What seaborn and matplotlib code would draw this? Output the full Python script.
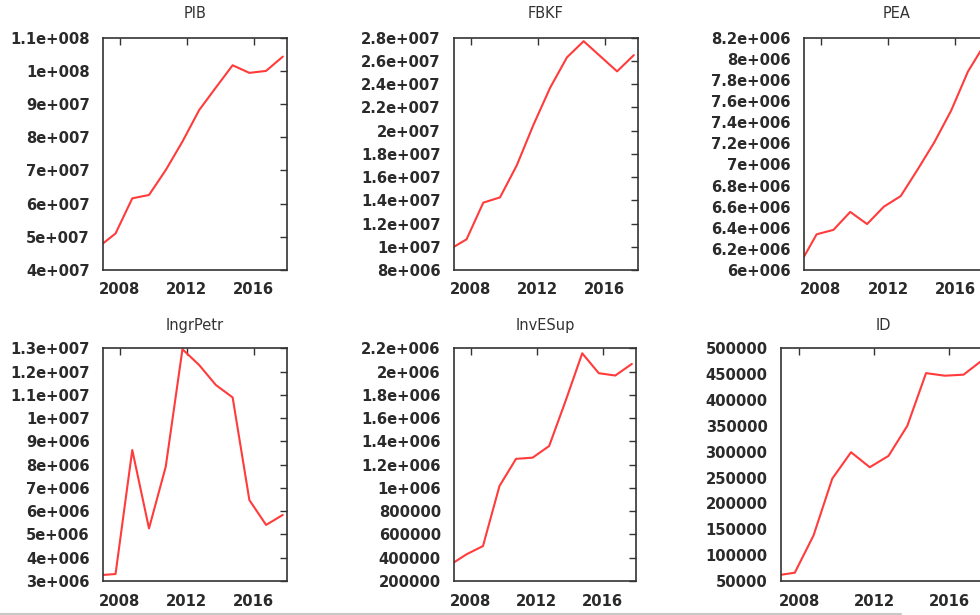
import matplotlib
matplotlib.use("Agg")
import matplotlib.pyplot as plt
import seaborn as sns
import pandas as pd
from matplotlib.ticker import FuncFormatter, MultipleLocator
from matplotlib.lines import Line2D

# ---- data ----
years = [2007.0, 2007.75, 2008.75, 2009.75, 2010.75, 2011.75,
         2012.75, 2013.75, 2014.75, 2015.75, 2016.75, 2017.75]

pib = [4.80e7, 5.10e7, 6.16e7, 6.26e7, 7.01e7, 7.87e7,
       8.82e7, 9.50e7, 1.017e8, 9.94e7, 1.00e8, 1.043e8]
fbkf = [1.00e7, 1.064e7, 1.38e7, 1.425e7, 1.70e7, 2.05e7,
        2.37e7, 2.63e7, 2.77e7, 2.64e7, 2.51e7, 2.65e7]
pea = [6.126e6, 6.338e6, 6.38e6, 6.55e6, 6.435e6, 6.60e6,
       6.70e6, 6.95e6, 7.21e6, 7.51e6, 7.88e6, 8.14e6]
ingrpetr = [3.26e6, 3.30e6, 8.63e6, 5.26e6, 7.91e6, 1.296e7,
            1.228e7, 1.142e7, 1.089e7, 6.48e6, 5.41e6, 5.84e6]
invesup = [3.6e5, 4.29e5, 5.0e5, 1.017e6, 1.25e6, 1.26e6,
           1.36e6, 1.75e6, 2.157e6, 1.986e6, 1.966e6, 2.066e6]
id_vals = [6.2e4, 6.6e4, 1.38e5, 2.48e5, 2.99e5, 2.70e5,
           2.92e5, 3.50e5, 4.52e5, 4.47e5, 4.49e5, 4.77e5]

titles = ["PIB", "FBKF", "PEA", "IngrPetr", "InvESup", "ID"]
series = [pib, fbkf, pea, ingrpetr, invesup, id_vals]
y_limits = [(4e7, 1.1e8), (8e6, 2.8e7), (6e6, 8.2e6),
            (3e6, 1.3e7), (2e5, 2.2e6), (5e4, 5e5)]
y_steps = [1e7, 2e6, 2e5, 1e6, 2e5, 5e4]
x_ticks = [2008, 2012, 2016]

# ---- style ----
sns.set_theme(style="white")
plt.rcParams["font.family"] = ["DejaVu Sans"]

W, H = 980, 615
fig = plt.figure(figsize=(W / 100, H / 100), dpi=100)
fig.patch.set_facecolor("white")

# axes boxes in pixels: (left, right, top, bottom)
boxes = [(103, 287, 37.7, 270), (454, 638, 37.7, 270), (804, 989, 37.7, 270),
         (103, 287, 348.3, 581), (454, 636, 348.3, 581), (780.7, 987, 348.3, 581)]
title_pads = [14.5, 14.5, 14.5, 13, 13, 13]


def gfmt(v, pos=None):
    s = "%g" % v
    if "e" in s:
        mant, exp = s.split("e")
        sign = exp[0]
        digits = exp[1:].lstrip("0")
        s = "%se%s%03d" % (mant, sign, int(digits or "0"))
    return s


for i, (t, vals) in enumerate(zip(titles, series)):
    l, r, tp, bt = boxes[i]
    ax = fig.add_axes([l / W, 1 - bt / H, (r - l) / W, (bt - tp) / H])
    df = pd.DataFrame({"year": years, "value": vals})
    sns.lineplot(data=df, x="year", y="value", ax=ax, color="#ff3b3b",
                 linewidth=1.5)
    ax.set_xlim(2007, 2018)
    ax.set_ylim(*y_limits[i])
    ax.set_xticks(x_ticks)
    ax.set_xticklabels([str(x) for x in x_ticks])
    ax.yaxis.set_major_locator(MultipleLocator(y_steps[i]))
    ax.yaxis.set_major_formatter(FuncFormatter(gfmt))
    ax.set_xlabel("")
    ax.set_ylabel("")
    ax.tick_params(direction="in", top=True, right=True, length=5, width=1,
                   color="#333333", labelsize=10.6, labelcolor="#2a2a2a")
    ax.tick_params(axis="y", pad=9.5)
    ax.tick_params(axis="x", pad=9)
    for lab in ax.get_xticklabels() + ax.get_yticklabels():
        lab.set_fontweight("bold")
    for sp in ax.spines.values():
        sp.set_visible(True)
        sp.set_color("#333333")
        sp.set_linewidth(1.2)
    ax.set_title(t, fontsize=10.5, color="#333333", pad=title_pads[i])
    ax.grid(False)

# light grey line at the bottom of the screenshot
fig.add_artist(Line2D([0, 901 / W], [1 - 613.5 / H, 1 - 613.5 / H],
                      transform=fig.transFigure, color="#c8c8c8", linewidth=1.5))

fig.savefig("out.png", dpi=100, facecolor="white")
